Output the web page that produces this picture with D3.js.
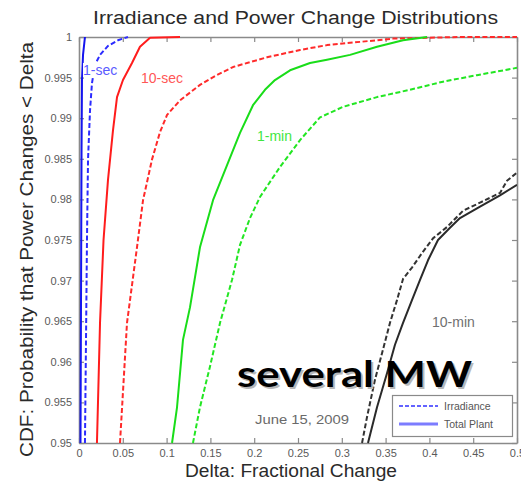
<!DOCTYPE html>
<html>
<head>
<meta charset="utf-8">
<script src="https://cdn.jsdelivr.net/npm/d3@7"></script>
<style>
  html, body { margin: 0; padding: 0; background: #fff; }
  svg { display: block; font-family: "Liberation Sans", Arial, sans-serif; }
</style>
</head>
<body>
<svg id="chart" width="521" height="486"></svg>
<script>
// Tick values and their printed labels
const xTicks = [0, 0.05, 0.1, 0.15, 0.2, 0.25, 0.3, 0.35, 0.4, 0.45, 0.5];
const xTickLabels = ["0", "0.05", "0.1", "0.15", "0.2", "0.25", "0.3", "0.35", "0.4", "0.45", "0.5"];
const yTicks = [0.95, 0.955, 0.96, 0.965, 0.97, 0.975, 0.98, 0.985, 0.99, 0.995, 1];
const yTickLabels = ["0.95", "0.955", "0.96", "0.965", "0.97", "0.975", "0.98", "0.985", "0.99", "0.995", "1"];

// CDF curves: [delta, cumulative probability]
const sec1Irradiance = [[0.0068,0.95],[0.0080,0.9627],[0.0091,0.975],[0.0103,0.9849],[0.0126,0.9910],[0.0148,0.9943],[0.0183,0.9966],[0.0240,0.9978],[0.0331,0.9989],[0.0445,0.9996],[0.0559,1.0]];
const sec1Plant = [[0.0017,0.95],[0.0023,0.9676],[0.0029,0.9861],[0.0034,0.9947],[0.0046,0.9978],[0.0068,1.0]];

const sec10Irradiance = [[0.0468,0.95],[0.0548,0.9648],[0.0662,0.9741],[0.0731,0.9799],[0.0833,0.9849],[0.0925,0.9883],[0.1005,0.9904],[0.1153,0.9922],[0.1381,0.9941],[0.1553,0.9952],[0.1758,0.9963],[0.2146,0.9975],[0.2523,0.9984],[0.2831,0.9990],[0.3208,0.9994],[0.3584,0.9998],[0.3973,0.9999],[0.4349,1.0],[0.5,1.0]];
const sec10Plant = [[0.0205,0.95],[0.0240,0.9648],[0.0280,0.9750],[0.0331,0.9824],[0.0388,0.9885],[0.0434,0.9926],[0.0502,0.9947],[0.0605,0.9968],[0.0696,0.9988],[0.0811,0.9999],[0.1153,1.0]];

const min1Irradiance = [[0.1301,0.95],[0.1381,0.9544],[0.1495,0.9594],[0.1610,0.9648],[0.1747,0.9701],[0.1838,0.9744],[0.1952,0.9777],[0.2066,0.9803],[0.2295,0.9840],[0.2523,0.9873],[0.2751,0.9901],[0.3014,0.9914],[0.3402,0.9926],[0.3779,0.9935],[0.4155,0.9945],[0.4543,0.9953],[0.5,0.9962]];
const min1Plant = [[0.1062,0.95],[0.1119,0.9544],[0.1187,0.9627],[0.1267,0.9667],[0.1381,0.9741],[0.1530,0.9799],[0.1689,0.9842],[0.1838,0.9882],[0.1986,0.9916],[0.2123,0.9935],[0.2237,0.9947],[0.2409,0.9959],[0.2637,0.9968],[0.2831,0.9972],[0.3094,0.9978],[0.3402,0.9988],[0.3699,0.9996],[0.3973,1.0]];

const min10Irradiance = [[0.3231,0.95],[0.3288,0.9532],[0.3379,0.9578],[0.3470,0.9615],[0.3550,0.9648],[0.3630,0.9676],[0.3699,0.9702],[0.3801,0.9716],[0.3916,0.9734],[0.4041,0.9752],[0.4201,0.9766],[0.4384,0.9786],[0.4578,0.9796],[0.4806,0.9808],[0.4886,0.9823],[0.5,0.9833]];
const min10Plant = [[0.3299,0.95],[0.3402,0.9544],[0.3516,0.9586],[0.3607,0.9621],[0.3699,0.9648],[0.3801,0.9676],[0.3893,0.9701],[0.3984,0.9725],[0.4098,0.9750],[0.4235,0.9765],[0.4349,0.9777],[0.4578,0.9791],[0.4806,0.9805],[0.5,0.9818]];

const intervalNames = ["1-sec", "10-sec", "1-min", "10-min"];
const legendLabels = ["Irradiance", "Total Plant"];
const titleText = "Irradiance and Power Change Distributions";
const xLabelText = "Delta: Fractional Change";
const yLabelText = "CDF: Probability that Power Changes < Delta";
const dateText = "June 15, 2009";
const noteText = "several MW";

const svg = d3.select("#chart");
const plotLeft = 79, plotRight = 517, plotTop = 37, plotBottom = 443;

const x = d3.scaleLinear().domain([0, 0.5]).range([plotLeft, plotRight]);
const y = d3.scaleLinear().domain([0.95, 1]).range([plotBottom, plotTop]);

const axisColor = "#8a8a8a";
const tickText = "#5a5a5a";

// clip region for the curves
svg.append("defs").append("clipPath").attr("id", "plotClip")
  .append("rect").attr("x", plotLeft).attr("y", plotTop - 1)
  .attr("width", plotRight - plotLeft).attr("height", plotBottom - plotTop + 2);

// axes with inward ticks (boxed frame)
const gx = svg.append("g").attr("transform", `translate(0,${plotBottom})`)
  .call(d3.axisBottom(x).tickValues(xTicks).tickFormat((d, i) => xTickLabels[i])
    .tickSizeInner(-5).tickSizeOuter(0).tickPadding(6));
const gxTop = svg.append("g").attr("transform", `translate(0,${plotTop})`)
  .call(d3.axisTop(x).tickValues(xTicks).tickFormat("").tickSizeInner(-5).tickSizeOuter(0));
const gy = svg.append("g").attr("transform", `translate(${plotLeft},0)`)
  .call(d3.axisLeft(y).tickValues(yTicks).tickFormat((d, i) => yTickLabels[i])
    .tickSizeInner(-5).tickSizeOuter(0).tickPadding(7));
const gyRight = svg.append("g").attr("transform", `translate(${plotRight},0)`)
  .call(d3.axisRight(y).tickValues(yTicks).tickFormat("").tickSizeInner(-5).tickSizeOuter(0));

[gx, gxTop, gy, gyRight].forEach(g => {
  g.select(".domain").attr("stroke", axisColor).attr("stroke-width", 1.6);
  g.selectAll(".tick line").attr("stroke", axisColor).attr("stroke-width", 1.2);
  g.selectAll(".tick text").attr("fill", tickText).attr("font-size", 11)
    .attr("font-family", "'Liberation Sans', Arial, sans-serif");
});

// curves
const line = d3.line().x(d => x(d[0])).y(d => y(d[1]));
const curves = [
  { data: sec1Plant, color: "#1414ee", dash: null },
  { data: sec1Irradiance, color: "#2b2bff", dash: "5,2.5" },
  { data: sec10Plant, color: "#ff1c1c", dash: null },
  { data: sec10Irradiance, color: "#ff2a2a", dash: "5,2.5" },
  { data: min1Plant, color: "#19dd19", dash: null },
  { data: min1Irradiance, color: "#22e622", dash: "5,2.5" },
  { data: min10Plant, color: "#2a2a2a", dash: null },
  { data: min10Irradiance, color: "#333", dash: "5,2.5" }
];
const plot = svg.append("g").attr("clip-path", "url(#plotClip)");
plot.selectAll("path.curve").data(curves).join("path")
  .attr("class", "curve")
  .attr("d", d => line(d.data))
  .attr("fill", "none")
  .attr("stroke", d => d.color)
  .attr("stroke-width", 2)
  .attr("stroke-dasharray", d => d.dash)
  .attr("stroke-linejoin", "round");

// interval annotations, placed in data coordinates on a white backing
const annot = [
  { text: intervalNames[0], at: [0.0046, 0.99532], color: "#5b5bff" },
  { text: intervalNames[1], at: [0.0708, 0.99433], color: "#ff5757" },
  { text: intervalNames[2], at: [0.2032, 0.98719], color: "#3fe63f" },
  { text: intervalNames[3], at: [0.4030, 0.96429], color: "#707070" }
];
const ag = svg.selectAll("g.annot").data(annot).join("g").attr("class", "annot");
const aText = ag.append("text")
  .attr("x", d => x(d.at[0])).attr("y", d => y(d.at[1]))
  .attr("fill", d => d.color).attr("font-size", 14).text(d => d.text);
ag.each(function () {
  const g = d3.select(this);
  const b = g.select("text").node().getBBox();
  g.insert("rect", "text").attr("x", b.x).attr("y", b.y + 1)
    .attr("width", b.width).attr("height", b.height - 2).attr("fill", "#fff");
});

// date
svg.append("text").attr("x", 255).attr("y", 424).attr("fill", "#6a6a6a")
  .attr("font-size", 13).attr("textLength", 94).attr("lengthAdjust", "spacingAndGlyphs")
  .text(dateText);

// legend
const lg = svg.append("g");
lg.append("rect").attr("x", 392.5).attr("y", 395.5).attr("width", 120).attr("height", 41)
  .attr("fill", "#fff").attr("stroke", "#8a8a8a").attr("stroke-width", 1.2);
lg.append("line").attr("x1", 399).attr("x2", 438).attr("y1", 406).attr("y2", 406)
  .attr("stroke", "#3030ff").attr("stroke-width", 1.6).attr("stroke-dasharray", "4,2");
lg.append("line").attr("x1", 399).attr("x2", 438).attr("y1", 424).attr("y2", 424)
  .attr("stroke", "#7c7cff").attr("stroke-width", 3);
lg.selectAll("text.lgt").data(legendLabels).join("text").attr("class", "lgt")
  .attr("x", 444).attr("y", (d, i) => 410 + i * 18)
  .attr("fill", "#555").attr("font-size", 10.5).text(d => d);

// overlay note with soft shadow
svg.append("text").attr("x", 239).attr("y", 389).attr("fill", "#b8b8b8")
  .attr("font-family", "Lato, 'Open Sans', sans-serif").attr("font-weight", "bold")
  .attr("font-size", 37).attr("textLength", 235).attr("lengthAdjust", "spacingAndGlyphs")
  .text(noteText);
svg.append("text").attr("x", 237).attr("y", 387).attr("fill", "#000")
  .attr("font-family", "Lato, 'Open Sans', sans-serif").attr("font-weight", "bold")
  .attr("font-size", 37).attr("textLength", 235).attr("lengthAdjust", "spacingAndGlyphs")
  .text(noteText);

// title and axis labels
svg.append("text").attr("x", 295.5).attr("y", 24).attr("text-anchor", "middle")
  .attr("fill", "#2a2a2a").attr("font-size", 18)
  .attr("textLength", 405).attr("lengthAdjust", "spacingAndGlyphs").text(titleText);
svg.append("text").attr("x", 291).attr("y", 477).attr("text-anchor", "middle")
  .attr("fill", "#2a2a2a").attr("font-size", 17.5)
  .attr("textLength", 212).attr("lengthAdjust", "spacingAndGlyphs").text(xLabelText);
svg.append("text").attr("transform", "translate(33,249.5) rotate(-90)").attr("text-anchor", "middle")
  .attr("fill", "#2a2a2a").attr("font-size", 18)
  .attr("textLength", 415).attr("lengthAdjust", "spacingAndGlyphs").text(yLabelText);
</script>
</body>
</html>
